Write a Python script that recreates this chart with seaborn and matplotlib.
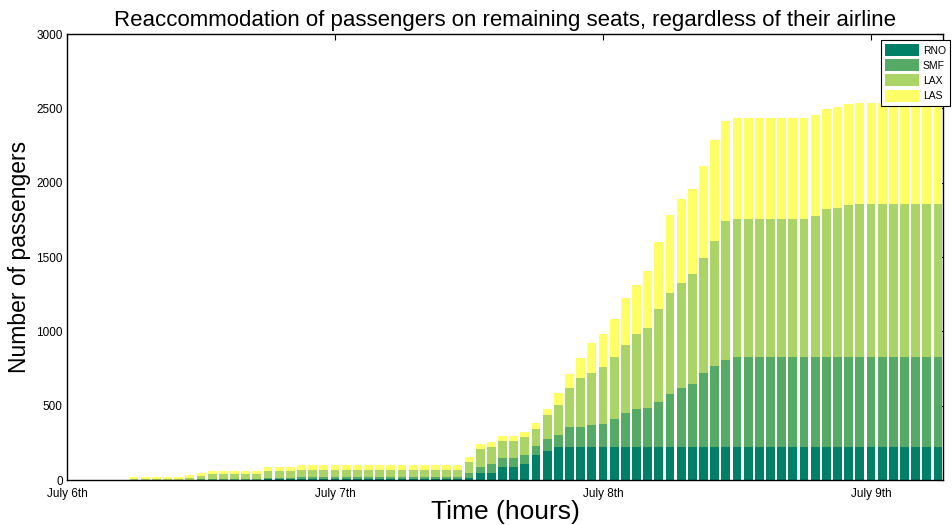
import pandas as pd
import matplotlib
matplotlib.use("Agg")
import matplotlib.pyplot as plt
import seaborn as sns
from matplotlib.patches import Patch

# hours since July 6th 00:00, one bar per hour
hours = list(range(6, 79))

# passengers reaccommodated per airport (stack segments)
rno = [0, 0, 0, 0, 0, 0, 0, 0, 0, 0, 0, 0, 7, 7, 7,
       9, 9, 9, 9, 9, 9, 9, 9, 9, 9, 9, 9, 9, 9, 9,
       11, 45, 45, 85, 85, 108, 168, 197, 224, 224, 224, 224, 224, 224, 224,
       224, 224, 224, 224, 224, 224, 224, 224, 224, 224, 224, 224, 224, 224, 224,
       224, 224, 224, 224, 224, 224, 224, 224, 224, 224, 224, 224, 224]
smf = [0, 0, 0, 0, 0, 0, 5, 5, 5, 5, 5, 5, 7, 7, 7,
       9, 9, 9, 9, 9, 9, 9, 9, 9, 9, 9, 9, 9, 9, 9,
       34, 40, 63, 63, 63, 60, 58, 79, 79, 132, 132, 145, 156, 184, 224,
       252, 263, 303, 354, 394, 422, 497, 545, 585, 603, 603, 603, 603, 603, 603,
       603, 603, 603, 603, 603, 603, 603, 603, 603, 603, 603, 603, 603]
lax = [8, 8, 8, 8, 8, 16, 24, 38, 38, 38, 38, 38, 44, 44, 44,
       52, 52, 52, 52, 52, 52, 52, 52, 52, 52, 52, 52, 52, 52, 52,
       74, 123, 116, 117, 117, 119, 117, 159, 204, 261, 328, 351, 381, 420, 459,
       505, 533, 623, 681, 708, 743, 770, 841, 931, 931, 931, 931, 931, 931, 931,
       931, 952, 994, 1005, 1021, 1031, 1031, 1031, 1031, 1031, 1031, 1031, 1031]
las = [12, 12, 12, 12, 12, 20, 18, 20, 20, 20, 20, 20, 27, 32, 32,
       33, 33, 33, 33, 33, 33, 33, 33, 33, 33, 33, 33, 33, 33, 33,
       33, 34, 34, 33, 33, 36, 38, 45, 76, 96, 137, 200, 223, 255, 318,
       333, 386, 453, 523, 562, 566, 621, 675, 675, 679, 679, 679, 679, 679, 679,
       679, 675, 674, 675, 681, 676, 676, 676, 676, 676, 676, 676, 676]

airports = ["RNO", "SMF", "LAX", "LAS"]
colors = ["#008066", "#55AA66", "#AAD466", "#FFFF66"]

df = pd.DataFrame({"hour": hours, "RNO": rno, "SMF": smf, "LAX": lax, "LAS": las})
cum = df[airports].cumsum(axis=1)
cum["hour"] = df["hour"]

sns.set_theme(style="white")
plt.rcParams["font.family"] = ["Liberation Sans", "DejaVu Sans"]
plt.rcParams["xtick.direction"] = "in"
plt.rcParams["ytick.direction"] = "in"
plt.rcParams["text.color"] = "black"
plt.rcParams["axes.labelcolor"] = "black"

fig = plt.figure(figsize=(9.53, 5.25), dpi=100)
ax = fig.add_axes([0.0703, 0.0857, 0.9192, 0.8495])

# draw the cumulative totals from the top layer down so each one covers the next
for name, col in zip(airports[::-1], colors[::-1]):
    sns.barplot(data=cum, x="hour", y=name, native_scale=True, color=col,
                saturation=1, width=0.8, linewidth=0, ax=ax)

ax.set_xlim(0, 78.45)
ax.set_ylim(0, 3000)
ax.set_xticks([0, 24, 48, 72])
ax.set_xticklabels(["July 6th", "July 7th", "July 8th", "July 9th"])
ax.set_yticks([0, 500, 1000, 1500, 2000, 2500, 3000])
ax.tick_params(axis="both", labelsize=8.5, length=4, width=0.8, colors="black",
               top=True, right=True)
ax.tick_params(axis="x", pad=6)
ax.tick_params(axis="y", pad=3)
for s in ax.spines.values():
    s.set_visible(True)
    s.set_color("black")
    s.set_linewidth(1)

ax.set_title("Reaccommodation of passengers on remaining seats, regardless of their airline",
             fontsize=16, pad=6, color="black")
ax.set_xlabel("Time (hours)", fontsize=19, labelpad=0, color="black")
ax.set_ylabel("Number of passengers", fontsize=16.5, labelpad=4, color="black")

handles = [Patch(facecolor=c, edgecolor="none", label=a) for a, c in zip(airports, colors)]
leg = ax.legend(handles=handles, loc="upper right", bbox_to_anchor=(0.997, 0.924),
                bbox_transform=fig.transFigure, borderaxespad=0, fontsize=7.5,
                frameon=True, fancybox=False, borderpad=0.4, handlelength=3.2,
                handleheight=1.4, labelspacing=0.3, handletextpad=0.4)
leg.get_frame().set_edgecolor("black")
leg.get_frame().set_linewidth(0.8)
leg.get_frame().set_alpha(1)

fig.savefig("out.png", dpi=100)
